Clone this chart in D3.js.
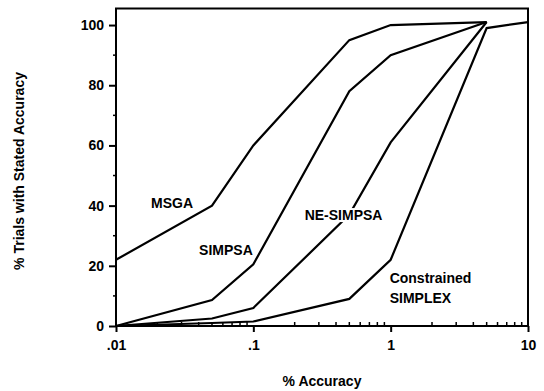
<!DOCTYPE html>
<html>
<head>
<meta charset="utf-8">
<script src="https://cdn.jsdelivr.net/npm/d3@7"></script>
<style>
body { margin: 0; background: #fff; }
text { font-family: "Liberation Sans", Arial, sans-serif; font-weight: bold; fill: #000; }
</style>
</head>
<body>
<div id="chart"></div>
<script>
// accuracy levels (%) on log axis
var accuracy = [0.01, 0.05, 0.1, 0.5, 1, 5, 10];
var msga = [22, 40, 60, 95, 100, 101];
var simpsa = [0, 8.6, 20.5, 78, 90, 101];
var neSimpsa = [0, 2.5, 6, 37, 61, 101];
var constrained = [0, 1, 1.5, 9, 22, 99, 101];
var yTicks = [0, 20, 40, 60, 80, 100];
var yMinor = [10, 30, 50, 70, 90];
var xTicks = [0.01, 0.1, 1, 10];
var xTickLabels = [".01", ".1", "1", "10"];

var series = [msga, simpsa, neSimpsa, constrained];

var width = 544, height = 391;
var margin = {t: 8.5, r: 15, b: 65, l: 116};

var svg = d3.select("#chart").append("svg")
    .attr("width", width)
    .attr("height", height);

var x = d3.scaleLog()
    .domain([0.01, 10])
    .range([margin.l, width - margin.r - 1]);
var y = d3.scaleLinear()
    .domain([0, 105.5])
    .range([height - margin.b, margin.t]);

var line = d3.line()
    .x(function(d, i) { return x(accuracy[i]); })
    .y(function(d) { return y(d); });

// frame
svg.append("rect")
    .attr("x", x(0.01)).attr("y", y(105.5))
    .attr("width", x(10) - x(0.01)).attr("height", y(0) - y(105.5))
    .attr("fill", "none").attr("stroke", "#000").attr("stroke-width", 2);

// y axis
var yAxis = svg.append("g")
    .attr("transform", "translate(" + x(0.01) + ",0)")
    .call(d3.axisLeft(y).tickValues(yTicks).tickSize(7).tickPadding(5).tickFormat(d3.format("d")));
yAxis.select(".domain").remove();
yAxis.selectAll("line").attr("stroke-width", 2);
yAxis.selectAll("text").style("font-size", "14px");

svg.append("g")
    .selectAll("line").data(yMinor).enter().append("line")
    .attr("x1", x(0.01) - 3).attr("x2", x(0.01))
    .attr("y1", function(d) { return y(d); }).attr("y2", function(d) { return y(d); })
    .attr("stroke", "#000").attr("stroke-width", 1.5);

// x axis
var xAxis = svg.append("g")
    .attr("transform", "translate(0," + y(0) + ")")
    .call(d3.axisBottom(x).tickValues(xTicks).tickSize(6).tickPadding(8)
        .tickFormat(function(d, i) { return xTickLabels[i]; }));
xAxis.select(".domain").remove();
xAxis.selectAll("line").attr("stroke-width", 2);
xAxis.selectAll("text").style("font-size", "14px");

var xMinor = [];
[0.01, 0.1, 1].forEach(function(dec) {
    for (var k = 2; k <= 9; k++) xMinor.push(dec * k);
});
svg.append("g")
    .selectAll("line").data(xMinor).enter().append("line")
    .attr("x1", function(d) { return x(d); }).attr("x2", function(d) { return x(d); })
    .attr("y1", y(0) - 4).attr("y2", y(0))
    .attr("stroke", "#000").attr("stroke-width", 1.5);

// series lines
svg.append("g")
    .selectAll("path").data(series).enter().append("path")
    .attr("d", line)
    .attr("fill", "none")
    .attr("stroke", "#000")
    .attr("stroke-width", 2.2)
    .attr("stroke-linejoin", "miter");

// curve labels (white behind so line breaks)
var labels = [
    {t: "MSGA", v: 0.0256, p: 39.2, a: "middle"},
    {t: "SIMPSA", v: 0.0632, p: 23.6, a: "middle"},
    {t: "NE-SIMPSA", v: 0.454, p: 35.2, a: "middle"},
    {t: "Constrained", v: 1.0, p: 14.3, a: "start"},
    {t: "SIMPLEX", v: 1.0, p: 7.6, a: "start"}
];
var lg = svg.append("g");
labels.forEach(function(d) {
    var t = lg.append("text")
        .attr("x", d.a === "start" ? x(d.v) - 1 : x(d.v)).attr("y", y(d.p))
        .attr("text-anchor", d.a)
        .style("font-size", "14px")
        .text(d.t);
    var b = t.node().getBBox();
    lg.insert("rect", "text")
        .attr("x", b.x - 2).attr("y", b.y + 1)
        .attr("width", b.width + 4).attr("height", b.height - 2)
        .attr("fill", "#fff");
});

// axis titles
svg.append("text")
    .attr("x", (x(0.01) + x(10)) / 2).attr("y", 386)
    .attr("text-anchor", "middle")
    .style("font-size", "14px")
    .text("%  Accuracy");

svg.append("text")
    .attr("transform", "translate(24," + 171 + ") rotate(-90)")
    .attr("text-anchor", "middle")
    .style("font-size", "14px")
    .text("%  Trials with Stated Accuracy");
</script>
</body>
</html>
